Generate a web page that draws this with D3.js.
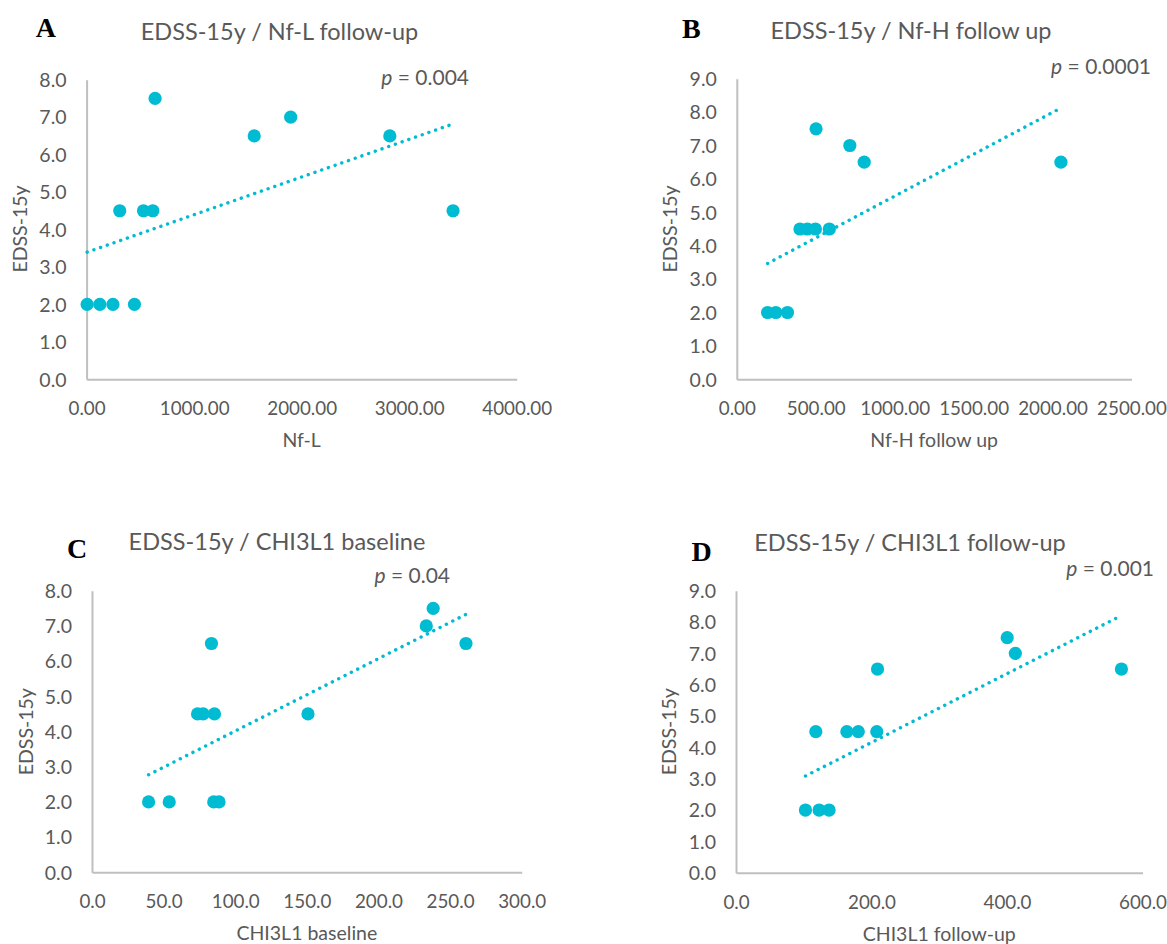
<!DOCTYPE html>
<html>
<head>
<meta charset="utf-8">
<script src="https://cdn.jsdelivr.net/npm/d3@7"></script>
<style>
  body { margin: 0; background: #fff; }
  svg text { font-family: Lato, "Open Sans", sans-serif; fill: #595959; }
  .letter { font-family: "Liberation Serif", "DejaVu Serif", serif; font-weight: bold; fill: #000; }
</style>
</head>
<body>
<div id="chart"></div>
<script>
// values
var nflX = [5, 123, 245, 445, 308, 529, 616, 637, 1559, 1898, 2820, 3408];
var nflY = [2, 2, 2, 2, 4.5, 4.5, 4.5, 7.5, 6.5, 7, 6.5, 4.5];
var nfhX = [195, 247, 321, 400, 447, 498, 586, 502, 716, 807, 2053];
var nfhY = [2, 2, 2, 4.5, 4.5, 4.5, 4.5, 7.5, 7, 6.5, 6.5];
var chiBaseX = [39.5, 53.9, 85.0, 88.7, 83.4, 73.7, 77.6, 85.5, 150.8, 233.4, 238.2, 261.1];
var chiBaseY = [2, 2, 2, 2, 6.5, 4.5, 4.5, 4.5, 4.5, 7, 7.5, 6.5];
var chiFollowX = [102.5, 122.7, 137.4, 117.8, 163.6, 180.5, 207.8, 208.9, 400.3, 412.3, 568.9];
var chiFollowY = [2, 2, 2, 4.5, 4.5, 4.5, 4.5, 6.5, 7.5, 7, 6.5];

// linear trendline (Excel style) per panel
var trendIntercepts = [3.39, 2.98, 1.957, 1.96];
var trendSlopes = [0.001006, 0.002505, 0.02057, 0.01098];

var panelLetters = ["A", "B", "C", "D"];
var panelTitles = ["EDSS-15y / Nf-L follow-up", "EDSS-15y / Nf-H follow up",
                   "EDSS-15y / CHI3L1 baseline", "EDSS-15y / CHI3L1 follow-up"];
var xTitles = ["Nf-L", "Nf-H follow up", "CHI3L1 baseline", "CHI3L1 follow-up"];
var yTitle = "EDSS-15y";
var pValues = ["0.004", "0.0001", "0.04", "0.001"];
var xMax = [4000, 2500, 300, 600];
var xStep = [1000, 500, 50, 200];
var xFormat = [".2f", ".2f", ".1f", ".1f"];
var yMax = [8, 9, 8, 9];

var color = "#00BCD2";

// page layout (pixels)
var panels = [
    {xs: nflX, ys: nflY, x0: 86.6, x1: 516.7, yb: 379.3, yt: 79.7,
     letter: [35.8, 37.3], title: [279.5, 39.5], p: [469, 85], yt2: [20, 229]},
    {xs: nfhX, ys: nfhY, x0: 736.8, x1: 1131.5, yb: 379.3, yt: 78.7,
     letter: [682, 38], title: [911, 38.5], p: [1151, 74], yt2: [670, 229]},
    {xs: chiBaseX, ys: chiBaseY, x0: 92, x1: 521.7, yb: 872.3, yt: 590.7,
     letter: [67, 558], title: [277, 550], p: [450, 583], yt2: [26.5, 731.7]},
    {xs: chiFollowX, ys: chiFollowY, x0: 736, x1: 1142.5, yb: 872.7, yt: 590.7,
     letter: [691.4, 561], title: [910, 551], p: [1154, 576], yt2: [669.5, 731.7]}
];

var svg = d3.select("#chart").append("svg")
    .attr("width", 1167)
    .attr("height", 944);

panels.forEach(function(pn, i){
    var x = d3.scaleLinear().domain([0, xMax[i]]).range([pn.x0, pn.x1]);
    var y = d3.scaleLinear().domain([0, yMax[i]]).range([pn.yb, pn.yt]);
    var g = svg.append("g");

    // axes: only the grey lines and labels, no ticks
    var xAxis = d3.axisBottom(x)
        .tickValues(d3.range(0, xMax[i] + xStep[i] / 2, xStep[i]))
        .tickFormat(d3.format(xFormat[i]))
        .tickSize(0).tickPadding(0);
    var gx = g.append("g").attr("transform", "translate(0," + pn.yb + ")").call(xAxis);
    gx.select(".domain").attr("stroke", "#BFBFBF").attr("stroke-width", 2);
    gx.selectAll("text").attr("y", 36).attr("dy", null)
        .style("font-size", "18.8px").attr("fill", "#595959");

    var yAxis = d3.axisLeft(y)
        .tickValues(d3.range(0, yMax[i] + 0.5, 1))
        .tickFormat(d3.format(".1f"))
        .tickSize(0).tickPadding(20);
    var gy = g.append("g").attr("transform", "translate(" + pn.x0 + ",0)").call(yAxis);
    gy.select(".domain").attr("stroke", "#BFBFBF").attr("stroke-width", 2);
    gy.selectAll("text").attr("dy", "0.35em")
        .style("font-size", "19.5px").attr("fill", "#595959");
    gx.attr("font-family", null);
    gy.attr("font-family", null);

    // trendline
    var ext = d3.extent(pn.xs);
    var line = d3.line().x(function(d){ return x(d); })
        .y(function(d){ return y(trendIntercepts[i] + trendSlopes[i] * d); });
    g.append("path")
        .datum(ext)
        .attr("d", line)
        .attr("fill", "none")
        .attr("stroke", color)
        .attr("stroke-width", 3.4)
        .attr("stroke-linecap", "round")
        .attr("stroke-dasharray", "0.1 7");

    // points
    g.selectAll("circle.pt")
        .data(pn.xs.map(function(v, k){ return [v, pn.ys[k]]; }))
        .enter().append("circle")
        .attr("class", "pt")
        .attr("cx", function(d){ return x(d[0]); })
        .attr("cy", function(d){ return y(d[1]); })
        .attr("r", 6.6)
        .attr("fill", color);

    // texts
    g.append("text").attr("class", "letter")
        .attr("x", pn.letter[0]).attr("y", pn.letter[1])
        .style("font-size", "28px")
        .text(panelLetters[i]);
    g.append("text")
        .attr("x", pn.title[0]).attr("y", pn.title[1])
        .attr("text-anchor", "middle")
        .style("font-size", "23.5px")
        .text(panelTitles[i]);
    var pt = g.append("text")
        .attr("x", pn.p[0]).attr("y", pn.p[1])
        .attr("text-anchor", "end")
        .style("font-size", "21px");
    pt.append("tspan").style("font-style", "italic").text("p");
    pt.append("tspan").text(" = " + pValues[i]);

    g.append("text")
        .attr("x", (pn.x0 + pn.x1) / 2).attr("y", pn.yb + 68)
        .attr("text-anchor", "middle")
        .style("font-size", "19.5px")
        .text(xTitles[i]);
    g.append("text")
        .attr("transform", "translate(" + pn.yt2[0] + "," + pn.yt2[1] + ") rotate(-90)")
        .attr("text-anchor", "middle")
        .attr("dy", "0.35em")
        .style("font-size", "19.5px")
        .text(yTitle);
});
</script>
</body>
</html>
